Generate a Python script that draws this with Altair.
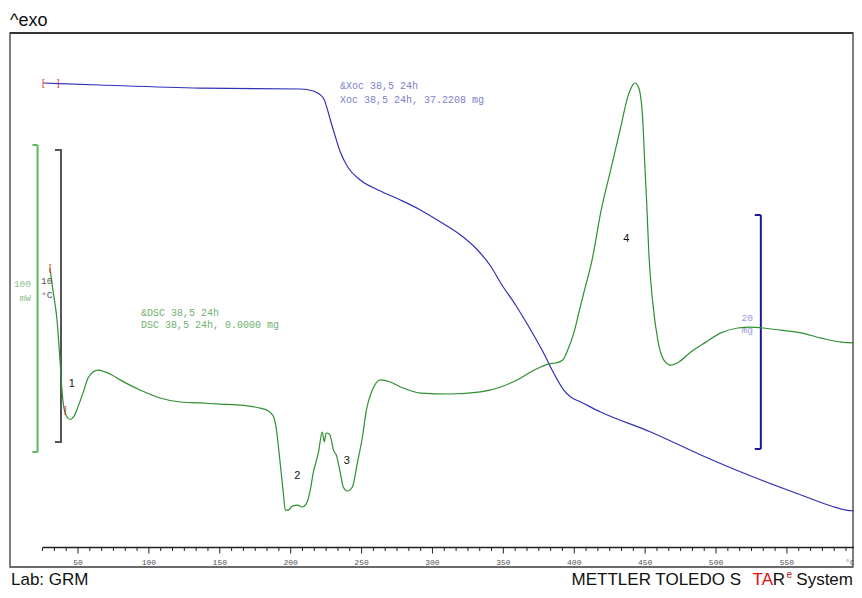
import altair as alt
import pandas as pd

# ---------------- data ----------------
# DSC curve (temperature in °C, heat flow in mW)
dsc_temp = [30.2, 32.3, 35.2, 37.3, 38.7, 40.1, 42.2, 44.4, 47.2, 50.0,
            53.5, 57.1, 60.6, 64.1, 69.1, 74.0, 79.7, 93.8, 107.9, 122.0,
            136.2, 150.3, 164.4, 178.5, 184.2, 187.7, 189.8, 192.0, 194.8, 196.2,
            198.3, 201.1, 204.7, 208.2, 211.0, 213.8, 215.9, 219.5, 222.3, 223.7,
            225.1, 227.3, 228.7, 230.1, 232.2, 235.0, 237.1, 240.0, 243.5, 247.0,
            250.6, 253.4, 257.6, 263.3, 270.3, 277.4, 291.5, 312.7, 334.0, 348.1,
            362.3, 369.3, 376.4, 382.0, 387.0, 391.9, 395.4, 399.7, 403.2, 406.7,
            413.0, 418.6, 425.7, 432.8, 437.7, 441.3, 442.7, 445.5, 448.3, 449.7,
            451.1, 452.6, 455.4, 458.9, 463.1, 468.1, 473.7, 482.2, 492.8, 503.4,
            515.4, 524.6, 533.1, 545.8, 560.0, 574.2, 588.3, 601.0]
dsc_mw = [41.0, 33.9, 24.1, 11.1, 1.3, -4.6, -7.5, -8.3, -7.2, -4.2,
          0.3, 5.2, 7.2, 7.8, 7.2, 6.2, 4.6, 1.3, -1.3, -2.6,
          -2.9, -3.3, -3.6, -4.6, -5.5, -7.2, -11.1, -19.9, -32.2, -37.8,
          -37.8, -36.5, -36.2, -36.8, -35.8, -31.3, -25.7, -19.2, -12.4, -15.6,
          -12.7, -13.0, -15.0, -18.2, -19.9, -25.7, -30.3, -31.6, -30.3, -22.5,
          -14.0, -5.2, 1.3, 4.6, 3.9, 2.3, 0.3, 0.0, 0.7, 2.3,
          5.2, 7.2, 8.8, 9.8, 10.1, 11.1, 14.3, 19.9, 26.4, 32.9,
          44.6, 59.0, 73.0, 87.0, 96.7, 100.7, 101.3, 99.7, 89.3, 75.2,
          62.2, 45.9, 29.6, 17.6, 11.1, 9.4, 10.4, 13.7, 16.9, 19.9,
          21.5, 21.8, 21.5, 20.8, 19.9, 18.2, 16.9, 16.6]

# TGA curve (temperature in °C, mass in mg)
tga_temp = [25.4, 65.5, 136.2, 206.8, 215.9, 223.0, 228.0, 230.1, 235.0, 240.7,
            249.1, 263.3, 277.4, 291.5, 305.6, 319.8, 330.4, 341.0, 348.1, 358.6,
            369.3, 378.4, 385.5, 392.6, 397.5, 404.5, 418.6, 453.9, 489.3, 524.6,
            560.0, 581.2, 591.7, 601.0]
tga_mg = [37.22, 37.05, 36.79, 36.71, 36.54, 35.94, 34.06, 33.20, 31.32, 29.96,
          28.93, 27.99, 27.22, 26.37, 25.34, 24.23, 23.12, 21.58, 20.13, 18.25,
          16.11, 14.14, 12.43, 10.98, 10.38, 9.96, 9.10, 7.39, 5.43, 3.63,
          2.01, 1.07, 0.72, 0.64]

# temperature axis
tick_labels = [50, 100, 150, 200, 250, 300, 350, 400, 450, 500, 550]
tick_temps = [25 + i * 50 / 6 for i in range(70)]

# scale bars: (temperature position, low, high)
dsc_bar = [21.5, -18.9, 81.1]      # 100 mW
tga_bar = [531.6, 5.94, 25.94]     # 20 mg

# peak labels: (label, temperature, mW)
peak_labels = ["1", "2", "3", "4"]
peak_temps = [43.5, 202.5, 237.5, 434.5]
peak_mw = [2.3, -27.7, -22.8, 49.5]

# ---------------- chart ----------------
W, H = 846, 582
GREEN = "#2f8f2f"
BLUE = "#3030b8"
xs = alt.Scale(domain=[0.635, 597.3], nice=False, zero=False)
ys_dsc = alt.Scale(domain=[-63.84, 125.73], nice=False, zero=False)
ys_tga = alt.Scale(domain=[-6.112, 43.631], nice=False, zero=False)

one = pd.DataFrame({"a": [0]})

AXIS_Y = 539.5      # temperature axis line
FRAME_B = 559       # bottom of the frame
LABEL_Y = 557       # tick label baseline
FOOT_Y = 577        # footer baseline


def xq(f):
    return alt.X(f, type="quantitative", scale=xs, axis=None)


def text(s, x, y, size, color, font="Liberation Sans", align="left", baseline="alphabetic"):
    return alt.Chart(one).mark_text(
        fontSize=size, color=color, font=font, align=align, baseline=baseline
    ).encode(x=alt.value(x), y=alt.value(y), text=alt.value(s))


dsc_df = pd.DataFrame({"T": dsc_temp, "mW": dsc_mw})
tga_df = pd.DataFrame({"T": tga_temp, "mg": tga_mg})

dsc_line = alt.Chart(dsc_df).mark_line(color=GREEN, strokeWidth=1.2, interpolate="monotone", clip=True).encode(
    x=xq("T"), y=alt.Y("mW:Q", scale=ys_dsc, axis=None))
tga_line = alt.Chart(tga_df).mark_line(color=BLUE, strokeWidth=1.2, interpolate="monotone", clip=True).encode(
    x=xq("T"), y=alt.Y("mg:Q", scale=ys_tga, axis=None))

# scale bars
dbar = pd.DataFrame({"T": [dsc_bar[0]], "T0": [dsc_bar[0] - 3.6], "lo": [dsc_bar[1]], "hi": [dsc_bar[2]]})
dsc_bar_v = alt.Chart(dbar).mark_rule(color="#5cb85c", strokeWidth=2).encode(
    x=xq("T"), y=alt.Y("lo:Q", scale=ys_dsc, axis=None), y2="hi:Q")
dsc_bar_t = alt.Chart(dbar).mark_rule(color="#5cb85c", strokeWidth=2).encode(
    x=xq("T0"), x2="T:Q", y=alt.Y("hi:Q", scale=ys_dsc, axis=None))
dsc_bar_b = alt.Chart(dbar).mark_rule(color="#5cb85c", strokeWidth=2).encode(
    x=xq("T0"), x2="T:Q", y=alt.Y("lo:Q", scale=ys_dsc, axis=None))

tbar = pd.DataFrame({"T": [tga_bar[0]], "T0": [tga_bar[0] - 4.3], "lo": [tga_bar[1]], "hi": [tga_bar[2]]})
tga_bar_v = alt.Chart(tbar).mark_rule(color="#1c1c8c", strokeWidth=2).encode(
    x=xq("T"), y=alt.Y("lo:Q", scale=ys_tga, axis=None), y2="hi:Q")
tga_bar_t = alt.Chart(tbar).mark_rule(color="#1c1c8c", strokeWidth=2).encode(
    x=xq("T0"), x2="T:Q", y=alt.Y("hi:Q", scale=ys_tga, axis=None))
tga_bar_b = alt.Chart(tbar).mark_rule(color="#1c1c8c", strokeWidth=2).encode(
    x=xq("T0"), x2="T:Q", y=alt.Y("lo:Q", scale=ys_tga, axis=None))

# temperature reference bar (10 °C)
tbar_col = "#555555"
temp_bar = [
    alt.Chart(one).mark_rule(color=tbar_col, strokeWidth=2).encode(x=alt.value(53), y=alt.value(142), y2=alt.value(434)),
    alt.Chart(one).mark_rule(color=tbar_col, strokeWidth=2).encode(x=alt.value(47), x2=alt.value(54), y=alt.value(142)),
    alt.Chart(one).mark_rule(color=tbar_col, strokeWidth=2).encode(x=alt.value(47), x2=alt.value(54), y=alt.value(434)),
]

# frame
frame = alt.Chart(one).mark_rect(fill="transparent", stroke="#3a3a3a", strokeWidth=1.3).encode(
    x=alt.value(2), x2=alt.value(845), y=alt.value(25), y2=alt.value(FRAME_B))
frame_top = alt.Chart(one).mark_rule(color="#333333", strokeWidth=2).encode(
    x=alt.value(2), x2=alt.value(845), y=alt.value(25))

# temperature axis
axis_line = alt.Chart(pd.DataFrame({"a": [tick_temps[0]], "b": [tick_temps[-1]]})).mark_rule(
    color="#222222", strokeWidth=1.3, clip=True).encode(x=xq("a"), x2="b:Q", y=alt.value(AXIS_Y))
tick_df = pd.DataFrame({"T": tick_temps})
tick_df["major"] = [abs(t / 50 - round(t / 50)) < 1e-6 for t in tick_temps]
minor_ticks = alt.Chart(tick_df[~tick_df["major"]]).mark_rule(color="#222222", strokeWidth=1, clip=True).encode(
    x=xq("T"), y=alt.value(AXIS_Y), y2=alt.value(AXIS_Y + 3.5))
major_ticks = alt.Chart(tick_df[tick_df["major"]]).mark_rule(color="#222222", strokeWidth=1, clip=True).encode(
    x=xq("T"), y=alt.value(AXIS_Y), y2=alt.value(AXIS_Y + 6))
tick_text = alt.Chart(pd.DataFrame({"T": tick_labels})).mark_text(
    fontSize=8, color="#555555", font="Liberation Mono", baseline="alphabetic").encode(
    x=xq("T"), y=alt.value(LABEL_Y), text="T:Q")

# peak labels
peaks = alt.Chart(pd.DataFrame({"T": peak_temps, "mW": peak_mw, "lab": peak_labels})).mark_text(
    fontSize=11, color="#111111", font="Liberation Sans", baseline="alphabetic", align="left").encode(
    x=xq("T"), y=alt.Y("mW:Q", scale=ys_dsc, axis=None), text="lab:N")

texts = [
    text("^exo", 2, 18, 18, "#111111"),
    text("Lab: GRM", 3, FOOT_Y, 17, "#111111"),
    text("METTLER TOLEDO S", 733, FOOT_Y, 17, "#111111", align="right"),
    text("TA", 765, FOOT_Y, 17, "#e01010", align="right"),
    text("R", 777, FOOT_Y, 17, "#111111", align="right"),
    text("e", 784, FOOT_Y - 7, 10, "#c01010", align="right"),
    text("System", 845, FOOT_Y, 17, "#111111", align="right"),
    text("\u00b0C", 842, LABEL_Y, 8, "#555555", font="Liberation Mono", align="center"),
    text("&Xoc 38,5 24h", 332, 81, 10, "#8080c8", font="Liberation Mono"),
    text("Xoc 38,5 24h, 37.2208 mg", 332, 94.5, 10, "#8080c8", font="Liberation Mono"),
    text("&DSC 38,5 24h", 133, 308, 10, "#70b070", font="Liberation Mono"),
    text("DSC 38,5 24h, 0.0000 mg", 133, 320, 10, "#70b070", font="Liberation Mono"),
    text("100", 23, 279, 9.5, "#8fc08f", font="Liberation Mono", align="right"),
    text("mW", 23, 292.5, 9.5, "#8fc08f", font="Liberation Mono", align="right"),
    text("10", 33, 276, 9.5, "#555555", font="Liberation Mono"),
    text("\u00b0C", 33, 290, 9.5, "#555555", font="Liberation Mono"),
    text("20", 745, 313, 9.5, "#9a9ae0", font="Liberation Mono", align="right"),
    text("mg", 745, 325, 9.5, "#9a9ae0", font="Liberation Mono", align="right"),
    # red evaluation limit brackets
    text("[", 34, 75, 9, "#e02020", baseline="middle"),
    text("]", 49, 75, 9, "#e02020", baseline="middle"),
    text("[", 41, 260, 9, "#e02020", baseline="middle"),
    text("]", 56, 402, 9, "#e02020", baseline="middle"),
]

chart = alt.layer(
    frame, frame_top,
    dsc_bar_v, dsc_bar_t, dsc_bar_b,
    *temp_bar,
    tga_bar_v, tga_bar_t, tga_bar_b,
    axis_line, minor_ticks, major_ticks, tick_text,
    tga_line, dsc_line, peaks,
    *texts,
).resolve_scale(y="independent").properties(
    width=W, height=H, padding=0,
    autosize=alt.AutoSizeParams(type="none"),
    background="white",
).configure_view(stroke=None)

chart.save("out.html", embed_options={"renderer": "svg", "actions": False})
